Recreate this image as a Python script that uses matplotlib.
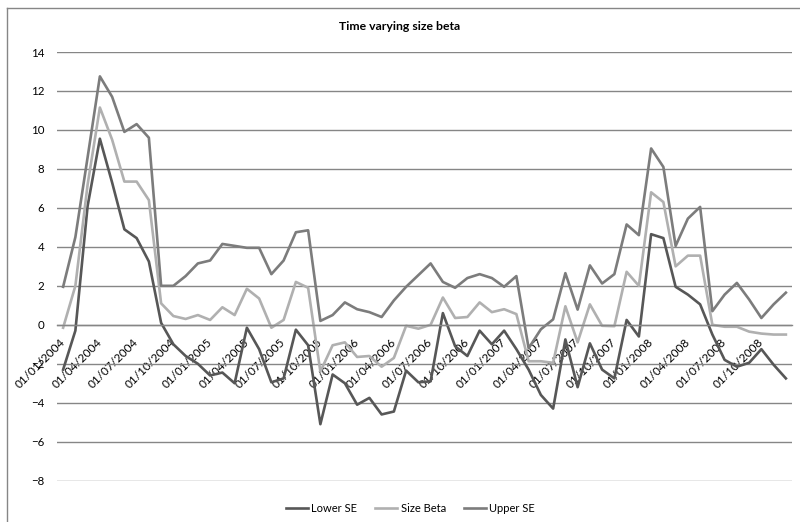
import matplotlib
matplotlib.use("Agg")
import matplotlib.pyplot as plt
from matplotlib.lines import Line2D
import pandas as pd

plt.rcParams['font.family'] = ['Lato', 'DejaVu Sans']

# monthly dates, Jan 2004 - Dec 2008
dates = pd.date_range("2004-01-01", periods=60, freq="MS")

lower_se = [-2.3, -0.3, 6.1, 9.55, 7.3, 4.9, 4.45, 3.25, 0.1, -1.0,
            -1.6, -2.0, -2.6, -2.45, -3.0, -0.15, -1.25, -2.95, -2.75, -0.25,
            -1.05, -5.1, -2.55, -3.0, -4.1, -3.75, -4.6, -4.45, -2.35, -2.95,
            -2.9, 0.6, -1.1, -1.6, -0.3, -1.0, -0.3, -1.25, -2.3, -3.6,
            -4.3, -0.75, -3.2, -0.95, -2.3, -2.75, 0.25, -0.6, 4.65, 4.45,
            1.95, 1.55, 1.05, -0.5, -1.8, -2.15, -1.95, -1.25, -2.05, -2.75]

size_beta = [-0.15, 2.0, 7.2, 11.15, 9.5, 7.35, 7.35, 6.4, 1.1, 0.45,
             0.3, 0.5, 0.25, 0.9, 0.5, 1.85, 1.35, -0.15, 0.25, 2.2,
             1.9, -2.4, -1.05, -0.9, -1.65, -1.6, -2.15, -1.7, -0.05, -0.2,
             0.0, 1.4, 0.35, 0.4, 1.15, 0.65, 0.8, 0.55, -1.87, -1.87,
             -1.95, 0.95, -0.9, 1.05, -0.05, -0.07, 2.72, 2.0, 6.8, 6.3,
             3.0, 3.55, 3.55, 0.0, -0.1, -0.1, -0.35, -0.45, -0.5, -0.5]

upper_se = [1.95, 4.5, 8.6, 12.75, 11.7, 9.9, 10.3, 9.6, 2.0, 2.0,
            2.5, 3.15, 3.3, 4.15, 4.05, 3.95, 3.95, 2.6, 3.3, 4.75,
            4.85, 0.2, 0.5, 1.15, 0.8, 0.65, 0.4, 1.25, 1.95, 2.55,
            3.15, 2.2, 1.9, 2.4, 2.6, 2.4, 1.95, 2.5, -1.2, -0.23,
            0.28, 2.65, 0.78, 3.05, 2.12, 2.6, 5.15, 4.6, 9.05, 8.1,
            4.05, 5.45, 6.05, 0.7, 1.55, 2.15, 1.3, 0.35, 1.05, 1.65]

labels = [d.strftime("%d/%m/%Y") for d in dates]
x = list(range(len(dates)))

fig = plt.figure(figsize=(8, 5.22), dpi=100)
ax = fig.add_axes([57/800, 41.3/522, 735/800, 428.7/522])

grid_col = "#868686"
ax.plot(x, lower_se, color="#575757", lw=1.9, label="Lower SE")
ax.plot(x, size_beta, color="#b0b0b0", lw=1.9, label="Size Beta")
ax.plot(x, upper_se, color="#7c7c7c", lw=1.9, label="Upper SE")

for side in ["left", "right", "top"]:
    ax.spines[side].set_visible(False)
# horizontal axis crosses at zero, as in Excel
ax.spines["bottom"].set_position(("data", 0))
ax.spines["bottom"].set_color(grid_col)
ax.spines["bottom"].set_linewidth(1)

ax.set_xlim(-0.5, len(x) - 0.5)
ax.set_ylim(-8, 14)
ax.set_yticks(range(-8, 15, 2))
ax.yaxis.grid(True, color=grid_col, lw=1)
ax.set_axisbelow(True)

ax.set_xticks(x[::3])
ax.set_xticklabels(labels[::3], rotation=45, ha="right", va="center",
                   rotation_mode="anchor", fontsize=8.5)
ax.tick_params(axis="x", length=0, pad=11)
ax.tick_params(axis="y", length=0, pad=9, labelsize=8.3)

fig.text(0.5, 1 - 27/522, "Time varying size beta", ha="center", va="center",
         fontsize=8.8, fontweight="bold")

fig.legend(loc="center", bbox_to_anchor=(0.513, 1 - 508/522), ncol=3,
           frameon=False, fontsize=8, handlelength=2.0, handletextpad=0.3,
           columnspacing=1.6)

# chart border
fig.add_artist(Line2D([7/800, 7/800], [0, 1 - 8/522], transform=fig.transFigure,
                      color=grid_col, lw=1))
fig.add_artist(Line2D([7/800, 1], [1 - 8/522, 1 - 8/522], transform=fig.transFigure,
                      color=grid_col, lw=1))

fig.savefig("out.png", dpi=100)
